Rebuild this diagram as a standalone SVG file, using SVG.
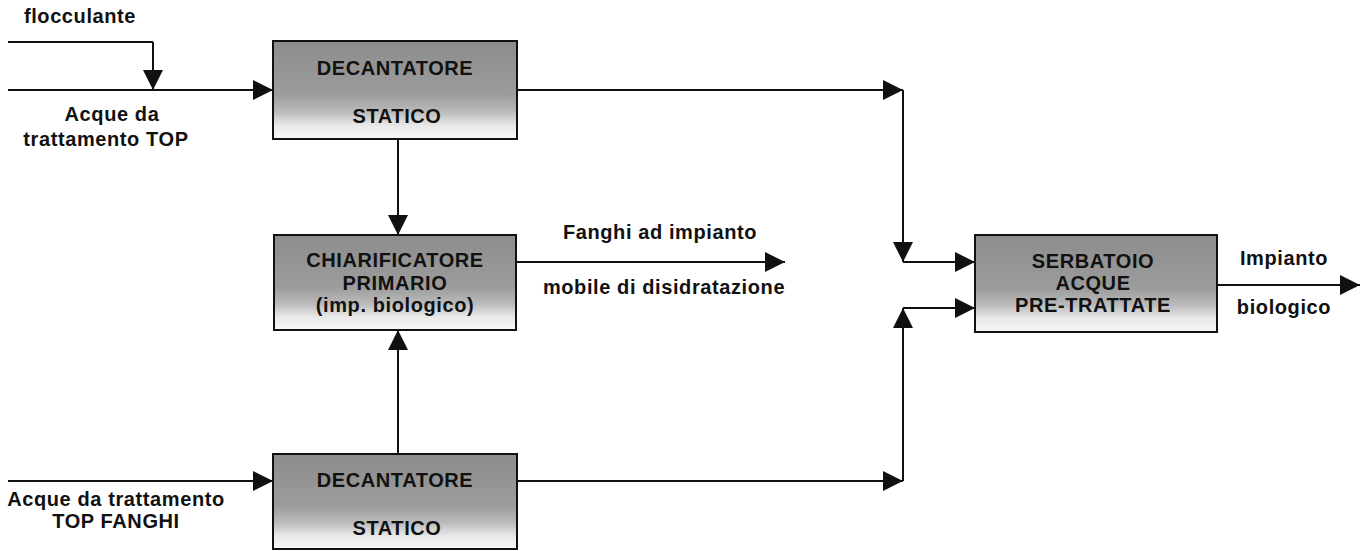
<svg xmlns="http://www.w3.org/2000/svg" width="1368" height="551" viewBox="0 0 1368 551">
  <defs>
    <linearGradient id="boxFill" x1="0" y1="0" x2="0" y2="1">
      <stop offset="0" stop-color="#8c8c8c"/>
      <stop offset="0.55" stop-color="#9c9c9c"/>
      <stop offset="0.72" stop-color="#bababa"/>
      <stop offset="0.86" stop-color="#e8e8e8"/>
      <stop offset="1" stop-color="#f8f8f8"/>
    </linearGradient>
    <marker id="arrow" viewBox="0 0 20 20" refX="20" refY="10" markerWidth="20" markerHeight="20" markerUnits="userSpaceOnUse" orient="auto">
      <path d="M0,0 L20,10 L0,20 Z" fill="#111"/>
    </marker>
    <style>
      .box { fill: url(#boxFill); stroke: #111; stroke-width: 2; }
      .lbl { font-family: "Liberation Sans", Arial, sans-serif; font-weight: bold; font-size: 20px; letter-spacing: 0.6px; fill: #111; text-anchor: middle; }
      .wire { fill: none; stroke: #111; stroke-width: 2; }
      .flow { fill: none; stroke: #111; stroke-width: 2; marker-end: url(#arrow); }
    </style>
  </defs>
  <rect width="1368" height="551" fill="#fff"/>

  <!-- connectors -->
  <g id="connectors">
    <path class="wire" d="M8,42 H153"/>
    <path class="flow" d="M153,42 V90"/>
    <path class="flow" d="M8,90 H273"/>
    <path class="flow" d="M517,90 H903"/>
    <path class="flow" d="M903,90 V262"/>
    <path class="flow" d="M903,262 H975"/>
    <path class="flow" d="M398,139 V235"/>
    <path class="flow" d="M398,454 V330"/>
    <path class="flow" d="M516,262 H785"/>
    <path class="flow" d="M8,481 H273"/>
    <path class="flow" d="M517,481 H903"/>
    <path class="flow" d="M903,481 V308"/>
    <path class="flow" d="M903,308 H975"/>
    <path class="flow" d="M1217,285 H1360"/>
  </g>

  <!-- stream labels -->
  <g id="labels">
    <text class="lbl" x="80" y="23">flocculante</text>
    <text class="lbl" x="112" y="121">Acque da</text>
    <text class="lbl" x="106" y="146">trattamento TOP</text>
    <text class="lbl" x="660" y="239">Fanghi ad impianto</text>
    <text class="lbl" x="664" y="294">mobile di disidratazione</text>
    <text class="lbl" x="116" y="506">Acque da trattamento</text>
    <text class="lbl" x="116" y="528">TOP FANGHI</text>
    <text class="lbl" x="1284" y="265">Impianto</text>
    <text class="lbl" x="1284" y="314">biologico</text>
  </g>

  <g id="decantatore-1">
    <rect class="box" x="273" y="41" width="244" height="98"/>
    <text class="lbl" x="395" y="75">DECANTATORE</text>
    <text class="lbl" x="397" y="123">STATICO</text>
  </g>

  <g id="chiarificatore">
    <rect class="box" x="274" y="235" width="242" height="95"/>
    <text class="lbl" x="395" y="267">CHIARIFICATORE</text>
    <text class="lbl" x="395" y="290">PRIMARIO</text>
    <text class="lbl" x="395" y="312">(imp. biologico)</text>
  </g>

  <g id="decantatore-2">
    <rect class="box" x="273" y="454" width="244" height="95"/>
    <text class="lbl" x="395" y="487">DECANTATORE</text>
    <text class="lbl" x="397" y="535">STATICO</text>
  </g>

  <g id="serbatoio">
    <rect class="box" x="975" y="235" width="242" height="97"/>
    <text class="lbl" x="1093" y="268">SERBATOIO</text>
    <text class="lbl" x="1093" y="290">ACQUE</text>
    <text class="lbl" x="1093" y="312">PRE-TRATTATE</text>
  </g>
</svg>
